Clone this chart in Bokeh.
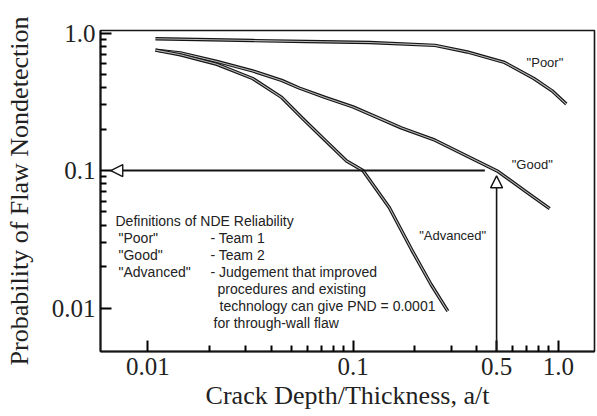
import math
from bokeh.plotting import figure
from bokeh.models import FixedTicker, CustomJSTickFormatter, Arrow, NormalHead, ColumnDataSource
from bokeh.core.properties import value
from bokeh.embed import file_html
from bokeh.resources import INLINE

# ---------------- data ----------------
poor_x = [0.0109, 0.0324, 0.0594, 0.1205, 0.2508, 0.3601, 0.5465, 0.7593, 0.9315, 1.093]
poor_y = [0.909, 0.881, 0.867, 0.853, 0.813, 0.728, 0.611, 0.467, 0.380, 0.304]

good_x = [0.0109, 0.0144, 0.0217, 0.0324, 0.0449, 0.0546, 0.0730, 0.100, 0.1344,
          0.1714, 0.2508, 0.3601, 0.509, 0.6947, 0.9071]
good_y = [0.751, 0.717, 0.621, 0.530, 0.452, 0.398, 0.340, 0.290, 0.2394,
          0.2043, 0.1662, 0.1269, 0.0982, 0.0702, 0.0528]

adv_x = [0.0109, 0.0144, 0.0217, 0.0324, 0.0449, 0.0573, 0.0730, 0.0930, 0.1116,
         0.1500, 0.1929, 0.2402, 0.2893]
adv_y = [0.751, 0.694, 0.592, 0.467, 0.340, 0.2357, 0.1662, 0.1172, 0.100,
         0.0538, 0.0265, 0.01476, 0.00948]

x_major_ticks = [0.01, 0.1, 0.5, 1.0]
x_minor_ticks = [0.02, 0.03, 0.04, 0.05, 0.06, 0.07, 0.08, 0.09,
                 0.2, 0.3, 0.4, 0.6, 0.7, 0.8, 0.9]
y_major_ticks = [0.01, 0.1, 1.0]
y_minor_ticks = [0.02, 0.03, 0.04, 0.05, 0.06, 0.07, 0.08, 0.09,
                 0.2, 0.3, 0.4, 0.5, 0.6, 0.7, 0.8, 0.9]

pnd_target = 0.1      # horizontal reading arrow
at_target = 0.5       # vertical reading arrow
arrow_tip_x = 0.0066
arrow_tail_x = 0.4385
arrow_tip_y = 0.0915

curve_labels = ['"Poor"', '"Good"', '"Advanced"']
curve_label_x = [0.86, 0.746, 0.3055]
curve_label_y = [0.611, 0.110, 0.0334]

legend_col1 = ["Definitions of NDE Reliability", '"Poor"', '"Good"', '"Advanced"']
legend_col2 = ["- Team 1", "- Team 2", "- Judgement that improved",
               "procedures and existing", "technology can give PND = 0.0001",
               "for through-wall flaw"]

# ---------------- layout ----------------
W, H = 596, 414
X_RANGE = (0.005883, 1.4993)
Y_RANGE = (0.004828, 1.0428)
FL, FR, FT, FB = 100, 594, 30, 351   # frame edges on the page
INK = "#151515"


def px2x(px):
    a, b = math.log10(X_RANGE[0]), math.log10(X_RANGE[1])
    return 10 ** (a + (px - FL) / (FR - FL) * (b - a))


def py2y(py):
    a, b = math.log10(Y_RANGE[0]), math.log10(Y_RANGE[1])
    return 10 ** (b - (py - FT) / (FB - FT) * (b - a))


p = figure(width=W, height=H, x_axis_type="log", y_axis_type="log",
           x_range=X_RANGE, y_range=Y_RANGE,
           output_backend="svg", toolbar_location=None,
           min_border_left=FL, min_border_right=W - FR, min_border_top=FT,
           min_border_bottom=H - FB)
p.background_fill_color = "white"
p.border_fill_color = "white"
p.grid.visible = False
p.outline_line_color = INK
p.outline_line_width = 1.6
p.outline_line_alpha = 1.0

fmt = CustomJSTickFormatter(code="return tick >= 1 ? tick.toFixed(1) : String(tick);")
p.xaxis.ticker = FixedTicker(ticks=x_major_ticks, minor_ticks=x_minor_ticks)
p.yaxis.ticker = FixedTicker(ticks=y_major_ticks, minor_ticks=y_minor_ticks)
p.xaxis.formatter = fmt
p.yaxis.formatter = fmt

for ax in (p.xaxis[0], p.yaxis[0]):
    ax.axis_line_color = INK
    ax.axis_line_width = 2
    ax.major_tick_in = 11
    ax.major_tick_out = 0
    ax.minor_tick_in = 6
    ax.minor_tick_out = 0
    ax.major_tick_line_color = "black"
    ax.minor_tick_line_color = "black"
    ax.major_tick_line_width = 2
    ax.minor_tick_line_width = 2
    ax.major_label_text_font = "Liberation Serif"
    ax.major_label_text_color = "#222222"
    ax.axis_label_text_font = "Liberation Serif"
    ax.axis_label_text_font_style = "normal"
    ax.axis_label_text_color = "#222222"

p.xaxis.axis_label = "Crack Depth/Thickness, a/t"
p.yaxis.axis_label = "Probability of Flaw Nondetection"
p.xaxis.major_label_text_font_size = "25px"
p.yaxis.major_label_text_font_size = "25px"
p.xaxis.axis_label_text_font_size = "26px"
p.yaxis.axis_label_text_font_size = "26px"
p.xaxis.major_label_standoff = 6
p.xaxis.axis_label_standoff = 3
p.yaxis.major_label_standoff = 5
p.yaxis.axis_label_standoff = 15

# ---------------- curves (double-stroke look of the scan) ----------------
for xs, ys in ((poor_x, poor_y), (good_x, good_y), (adv_x, adv_y)):
    src = ColumnDataSource(dict(x=xs, y=ys))
    p.line("x", "y", source=src, line_color=INK, line_width=3.4, line_join="round")
    p.line("x", "y", source=src, line_color="#b8b8b8", line_width=1.1, line_join="round")

# ---------------- reading arrows ----------------
p.add_layout(Arrow(end=NormalHead(size=12, fill_color="white", line_color=INK, line_width=1.4),
                   x_start=arrow_tail_x, y_start=pnd_target, x_end=arrow_tip_x, y_end=pnd_target,
                   line_color=INK, line_width=2.2))
p.add_layout(Arrow(end=NormalHead(size=12, fill_color="white", line_color=INK, line_width=1.4),
                   x_start=at_target, y_start=Y_RANGE[0], x_end=at_target, y_end=arrow_tip_y,
                   line_color=INK, line_width=1.6))

# ---------------- curve labels ----------------
p.text(x=curve_label_x, y=curve_label_y, text=curve_labels,
       text_font=value("Liberation Sans"), text_font_size="13px",
       text_align="center", text_baseline="middle", text_color="#222222")

# ---------------- definitions block ----------------
row_py = [220 + 17 * i for i in range(7)]
col1_px = [115, 118, 118, 118]
col2_px = [210, 210, 210, 217, 219, 213]
p.text(x=[px2x(v) for v in col1_px], y=[py2y(v) for v in row_py[:4]], text=legend_col1,
       text_font=value("Liberation Sans"), text_font_size="14px",
       text_align="left", text_baseline="middle", text_color="#222222")
p.text(x=[px2x(v) for v in col2_px], y=[py2y(v) for v in row_py[1:]], text=legend_col2,
       text_font=value("Liberation Sans"), text_font_size="14px",
       text_align="left", text_baseline="middle", text_color="#222222")

open("out.html", "w").write(file_html(p, INLINE))
